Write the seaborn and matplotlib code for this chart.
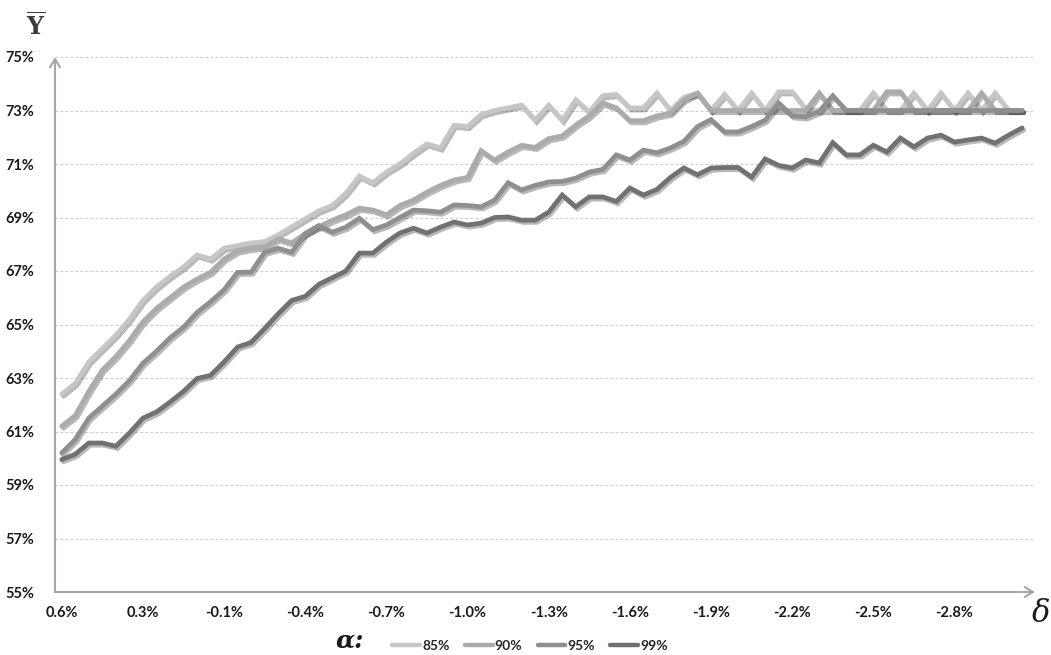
import numpy as np
import pandas as pd
import seaborn as sns
import matplotlib.pyplot as plt
from matplotlib import patheffects as pe
from matplotlib.lines import Line2D

# ---- data -------------------------------------------------------------
# category positions along the delta axis (0.55% down to -3.0% in 0.05% steps)
delta_pos = list(range(72))
xtick_pos = [0, 6, 12, 18, 24, 30, 36, 42, 48, 54, 60, 66]
xtick_labels = ["0.6%", "0.3%", "-0.1%", "-0.4%", "-0.7%", "-1.0%",
                "-1.3%", "-1.6%", "-1.9%", "-2.2%", "-2.5%", "-2.8%"]
ytick_vals = [55, 57, 59, 61, 63, 65, 67, 69, 71, 73, 75]
ytick_labels = ["55%", "57%", "59%", "61%", "63%", "65%", "67%", "69%", "71%", "73%", "75%"]

alpha_levels = ["85%", "90%", "95%", "99%"]

y85 = [62.4, 62.8, 63.6, 64.1, 64.6, 65.2, 65.9, 66.4, 66.8, 67.15, 67.6, 67.45, 67.85,
       67.95, 68.05, 68.1, 68.35, 68.65, 68.95, 69.25, 69.45, 69.9, 70.55, 70.3, 70.7, 71.0,
       71.4, 71.75, 71.6, 72.45, 72.4, 72.85, 73.0, 73.1, 73.2, 72.64, 73.2, 72.64, 73.4,
       72.95, 73.55, 73.6, 73.1, 73.1, 73.65, 73.0, 73.5, 73.65, 73.0, 73.6, 73.0, 73.65,
       73.0, 73.7, 73.7, 73.05, 73.0, 73.0, 73.0, 73.0, 73.65, 73.0, 73.0, 73.65, 73.0,
       73.65, 73.0, 73.65, 73.0, 73.65, 73.0, 73.0]

y90 = [61.2, 61.6, 62.5, 63.3, 63.8, 64.4, 65.1, 65.6, 66.0, 66.4, 66.7, 66.95, 67.45,
       67.75, 67.85, 67.9, 68.2, 68.05, 68.4, 68.65, 68.9, 69.1, 69.35, 69.28, 69.1, 69.45,
       69.65, 69.95, 70.2, 70.4, 70.5, 71.5, 71.15, 71.45, 71.7, 71.62, 71.95, 72.05, 72.46,
       72.8, 73.28, 73.1, 72.62, 72.62, 72.8, 72.9, 73.4, 73.65, 73.0, 73.0, 73.0, 73.0,
       73.0, 73.0, 73.0, 73.0, 73.65, 73.0, 73.0, 73.0, 73.0, 73.7, 73.7, 73.0, 73.0,
       73.0, 73.0, 73.0, 73.65, 73.0, 73.0, 73.0]

y95 = [60.2, 60.7, 61.5, 61.95, 62.4, 62.9, 63.55, 64.0, 64.5, 64.9, 65.45, 65.85, 66.3,
       66.95, 66.96, 67.7, 67.85, 67.7, 68.4, 68.7, 68.45, 68.64, 68.97, 68.55, 68.72, 69.0,
       69.28, 69.25, 69.2, 69.47, 69.45, 69.4, 69.65, 70.3, 70.03, 70.2, 70.33, 70.35, 70.47,
       70.7, 70.8, 71.34, 71.15, 71.52, 71.42, 71.6, 71.85, 72.4, 72.66, 72.2, 72.2, 72.4,
       72.64, 73.28, 72.8, 72.76, 72.97, 73.55, 73.0, 73.0, 73.0, 73.0, 73.0, 73.0, 73.0,
       73.0, 73.0, 73.0, 73.0, 73.0, 73.0, 73.0]

y99 = [59.95, 60.15, 60.57, 60.57, 60.45, 60.94, 61.5, 61.73, 62.1, 62.5, 62.98, 63.1, 63.6,
       64.16, 64.33, 64.85, 65.4, 65.9, 66.05, 66.5, 66.75, 67.0, 67.67, 67.67, 68.08, 68.42,
       68.6, 68.42, 68.64, 68.83, 68.72, 68.79, 69.0, 69.02, 68.9, 68.9, 69.2, 69.84, 69.4,
       69.77, 69.77, 69.6, 70.1, 69.84, 70.05, 70.5, 70.85, 70.6, 70.85, 70.87, 70.87, 70.51,
       71.19, 70.95, 70.85, 71.15, 71.04, 71.8, 71.34, 71.34, 71.7, 71.45, 71.97, 71.64, 71.97,
       72.08, 71.82, 71.9, 71.97, 71.78, 72.08, 72.35]

line_colors = ["#c6c6c6", "#ababab", "#8f8f8f", "#717171"]

# ---- long-form table ---------------------------------------------------
df = pd.DataFrame({
    "delta": delta_pos * 4,
    "Y": y85 + y90 + y95 + y99,
    "alpha": sum([[a] * len(delta_pos) for a in alpha_levels], []),
})

sns.set_style("white")
plt.rcParams["font.family"] = ["Lato", "DejaVu Sans"]
plt.rcParams["mathtext.fontset"] = "dejavuserif"

fig = plt.figure(figsize=(10.51, 6.55), dpi=100)
ax = fig.add_axes([55 / 1051, 63 / 655, 980 / 1051, 535 / 655])

sns.lineplot(data=df, x="delta", y="Y", hue="alpha", hue_order=alpha_levels,
             palette=dict(zip(alpha_levels, line_colors)), linewidth=3.4,
             legend=False, sort=False, ax=ax)

shadow = [pe.SimpleLineShadow(offset=(1.2, -1.6), shadow_color="black", alpha=0.28),
          pe.Normal()]
for ln in ax.lines:
    ln.set_path_effects(shadow)
    ln.set_solid_joinstyle("miter")

ax.set_xlim(-0.5, 71.95)
ax.set_ylim(55, 75)

# gridlines
ax.set_axisbelow(True)
ax.yaxis.grid(True, linestyle=(0, (2.5, 2)), color="#cdcdcd", linewidth=0.8)
ax.xaxis.grid(False)

# ticks and labels
ax.set_yticks(ytick_vals, ytick_labels)
ax.set_xticks(xtick_pos, xtick_labels)
ax.set_xticks([2.5 + 3 * k for k in range(23)], minor=True)
ax.tick_params(axis="y", length=0, pad=15, labelsize=10.5, labelcolor="#1a1a1a")
ax.tick_params(axis="x", which="major", length=0, pad=10, labelsize=10.5, labelcolor="#1a1a1a")
ax.tick_params(axis="x", which="minor", direction="in", length=4, width=1, color="#a0a0a0")
for lab in ax.get_xticklabels() + ax.get_yticklabels():
    lab.set_fontweight("bold")
ax.set_xlabel("")
ax.set_ylabel("")

# axes drawn as arrows
for s in ax.spines.values():
    s.set_visible(False)
arrow_kw = dict(arrowstyle="->,head_length=0.6,head_width=0.36", color="#a6a6a6",
                lw=1.5, shrinkA=0, shrinkB=0)
ax.annotate("", xy=(1.0, 0), xytext=(0, 0), xycoords="axes fraction",
            textcoords="axes fraction", arrowprops=arrow_kw, annotation_clip=False)
ax.annotate("", xy=(0, 1.0), xytext=(0, 0), xycoords="axes fraction",
            textcoords="axes fraction", arrowprops=arrow_kw, annotation_clip=False)

# axis symbols
fig.text(36 / 1051, 1 - 26 / 655, r"$\overline{\mathbf{Y}}$", fontsize=17,
         color="#3a3a3a", ha="center", va="center")
fig.text(1041 / 1051, 1 - 614 / 655, "δ", fontsize=22, family="DejaVu Serif",
         style="italic", color="#1a1a1a", ha="center", va="center")
fig.text(350 / 1051, 1 - 640 / 655, "α:", fontsize=18, family="DejaVu Serif",
         style="italic", weight="bold", color="#1a1a1a", ha="center", va="center")

# legend
handles = [Line2D([0], [0], color=c, lw=3.2) for c in line_colors]
fig.legend(handles, alpha_levels, loc="center", bbox_to_anchor=(530 / 1051, 1 - 646 / 655),
           ncol=4, frameon=False, handlelength=2.0, handletextpad=0.15,
           columnspacing=1.1, prop={"weight": "bold", "size": 10})

fig.savefig("out.png", dpi=100)
